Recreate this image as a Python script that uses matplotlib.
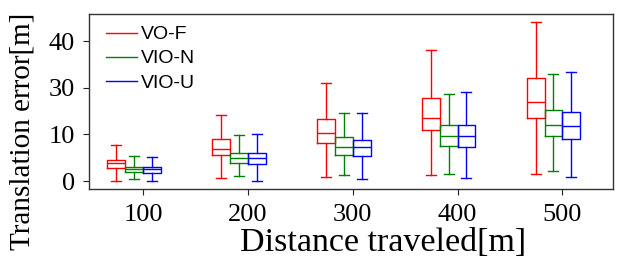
import numpy as np
import matplotlib.pyplot as plt

distances = [100, 200, 300, 400, 500]
methods = ["VO-F", "VIO-N", "VIO-U"]
colors = ["#ff0000", "#008000", "#0000ff"]

# box stats: low whisker, q1, median, q3, high whisker
vo_f = [
    [0.1, 2.7, 3.8, 4.6, 7.7],
    [0.6, 5.6, 6.8, 8.9, 14.1],
    [0.9, 8.1, 10.3, 13.2, 21.1],
    [1.2, 10.9, 13.4, 17.7, 28.0],
    [1.4, 13.6, 16.9, 22.0, 34.1],
]
vio_n = [
    [0.4, 1.9, 2.5, 3.1, 5.4],
    [1.0, 3.9, 5.0, 6.1, 9.9],
    [1.2, 5.6, 7.3, 9.4, 14.6],
    [1.6, 7.6, 9.6, 12.1, 18.6],
    [2.1, 9.6, 12.0, 15.2, 22.9],
]
vio_u = [
    [0.0, 1.8, 2.5, 3.1, 5.1],
    [0.1, 3.6, 4.9, 6.1, 10.1],
    [0.4, 5.3, 7.3, 8.8, 14.5],
    [0.6, 7.2, 9.6, 11.9, 19.0],
    [0.9, 9.0, 11.7, 14.7, 23.3],
]
offsets = [-25.5, -8.5, 8.5]
ytick_pos = [0, 10, 20, 30]
ytick_labels = ["0", "10", "30", "40"]

fig = plt.figure(figsize=(6.27, 2.68), dpi=100)
ax = fig.add_axes([0.142, 0.295, 0.836, 0.653])

for data, col, off, name in zip([vo_f, vio_n, vio_u], colors, offsets, methods):
    stats = []
    for d in data:
        stats.append({"whislo": d[0], "q1": d[1], "med": d[2], "q3": d[3],
                      "whishi": d[4], "fliers": []})
    pos = [x + off for x in distances]
    lp = dict(color=col, linewidth=1.0)
    ax.bxp(stats, positions=pos, widths=17, capwidths=9.5, showfliers=False,
           boxprops=lp, whiskerprops=lp, capprops=lp, medianprops=lp,
           manage_ticks=False)
    ax.plot([], [], color=col, linewidth=1.0, label=name)

ax.set_xlim(48.5, 548.5)
ax.set_ylim(-1.7, 35.8)
ax.set_xticks(distances)
ax.set_xticklabels([str(d) for d in distances])
ax.set_yticks(ytick_pos)
ax.set_yticklabels(ytick_labels)
ax.tick_params(direction="out", length=4, width=0.8, colors="#222222",
               labelcolor="black", labelsize=19)
ax.tick_params(axis="x", pad=7)
ax.tick_params(axis="y", pad=6)
for lab in ax.get_xticklabels() + ax.get_yticklabels():
    lab.set_family("Liberation Serif")
for s in ax.spines.values():
    s.set_color("#333333")
    s.set_linewidth(1.0)

ax.set_xlabel("Distance traveled[m]", family="Liberation Serif", fontsize=24.5)
ax.xaxis.set_label_coords(0.56, -0.31)
ax.xaxis.label.set_va("center")
ax.set_ylabel("Translation error[m]", family="Liberation Serif", fontsize=21)
ax.yaxis.set_label_coords(-0.126, 0.33)
ax.yaxis.label.set_va("center")

ax.legend(loc="upper left", frameon=False, prop={"family": "Liberation Sans", "size": 14},
          handlelength=1.6, handletextpad=0.2, labelspacing=0.33,
          borderpad=0, borderaxespad=0, bbox_to_anchor=(0.032, 0.932))

fig.savefig("out.png", dpi=100)
